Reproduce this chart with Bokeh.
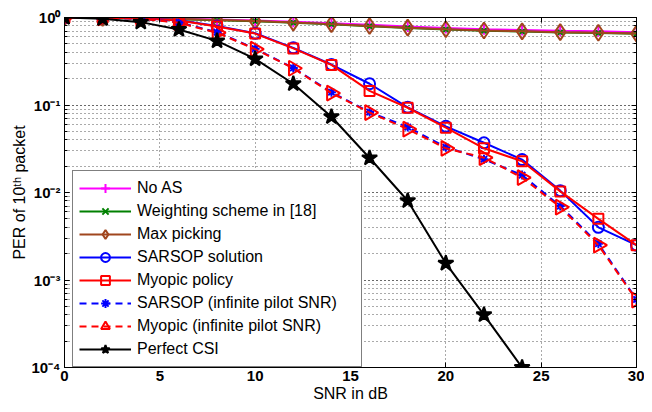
import math
from bokeh.plotting import figure
from bokeh.models import (Range1d, FixedTicker, LogTicker, CustomJSTickFormatter,
                          LinearAxis, LogAxis, Legend)
from bokeh.embed import file_html
from bokeh.resources import INLINE

snr = [0, 2, 4, 6, 8, 10, 12, 14, 16, 18, 20, 22, 24, 26, 28, 30]
no_as = [1.0, 0.995, 0.985, 0.97, 0.95, 0.925, 0.895, 0.86, 0.825, 0.79, 0.76, 0.735, 0.72, 0.705, 0.695, 0.68]
weighting = [1.0, 0.99, 0.98, 0.955, 0.93, 0.905, 0.87, 0.835, 0.795, 0.76, 0.73, 0.705, 0.69, 0.675, 0.665, 0.65]
max_pick = [1.0, 0.99, 0.98, 0.96, 0.935, 0.91, 0.875, 0.84, 0.80, 0.765, 0.735, 0.71, 0.695, 0.68, 0.67, 0.655]
sarsop = [1.0, 0.995, 0.98, 0.93, 0.80, 0.66, 0.45, 0.29, 0.175, 0.094, 0.057, 0.037, 0.0238, 0.0105, 0.004, 0.0025]
myopic = [1.0, 0.995, 0.98, 0.925, 0.79, 0.655, 0.443, 0.287, 0.145, 0.093, 0.055, 0.032, 0.0228, 0.0103, 0.005, 0.0025]
sarsop_inf = [1.0, 0.99, 0.97, 0.88, 0.68, 0.44, 0.265, 0.14, 0.083, 0.056, 0.033, 0.024, 0.0158, 0.007, 0.0026, 0.0006]
myopic_inf = [1.0, 0.99, 0.97, 0.87, 0.67, 0.435, 0.263, 0.137, 0.082, 0.053, 0.032, 0.025, 0.0148, 0.0068, 0.0025, 0.00059]
snr_csi = [0, 2, 4, 6, 8, 10, 12, 14, 16, 18, 20, 22, 24]
perfect_csi = [1.0, 0.97, 0.885, 0.73, 0.54, 0.336, 0.175, 0.0735, 0.0248, 0.00805, 0.00155, 0.0004, 0.0001]

x_ticks = [0, 5, 10, 15, 20, 25, 30]

FONT = "Liberation Sans"

p = figure(width=644, height=404, y_axis_type="log",
           x_range=Range1d(0, 30), y_range=Range1d(1e-4, 1),
           output_backend="svg", toolbar_location=None,
           min_border_left=64, min_border_right=8, min_border_top=17, min_border_bottom=36)
p.background_fill_color = "white"
p.border_fill_color = "white"
p.outline_line_color = "black"
p.outline_line_width = 1

sup_js = """
const sup = {"-":"\u207b","0":"\u2070","1":"\u00b9","2":"\u00b2","3":"\u00b3","4":"\u2074","5":"\u2075","6":"\u2076","7":"\u2077","8":"\u2078","9":"\u2079"};
const e = Math.round(Math.log10(tick));
return "10" + String(e).split("").map(c => sup[c]).join("");
"""

xa = p.xaxis[0]
xa.ticker = FixedTicker(ticks=x_ticks, minor_ticks=[])
ya = p.yaxis[0]
ya.ticker = LogTicker(num_minor_ticks=10)
ya.formatter = CustomJSTickFormatter(code=sup_js)

for ax in (xa, ya):
    ax.major_tick_in = 5
    ax.major_tick_out = 0
    ax.minor_tick_in = 3
    ax.minor_tick_out = 0
    ax.axis_line_color = "black"
    ax.major_tick_line_color = "black"
    ax.minor_tick_line_color = "black"
    ax.major_label_text_font = FONT
    ax.major_label_text_font_style = "bold"
    ax.major_label_text_font_size = "15px"
    ax.major_label_text_color = "black"
    ax.axis_label_text_font = FONT
    ax.axis_label_text_font_style = "normal"
    ax.axis_label_text_font_size = "16px"
    ax.axis_label_text_color = "black"

xa.axis_label = "SNR in dB"
xa.major_label_standoff = 3
xa.axis_label_standoff = 1
ya.axis_label = "PER of 10\u1d57\u02b0 packet"
ya.major_label_standoff = 4
ya.axis_label_standoff = 0

# mirrored ticks on top and right (Matlab box style)
empty = CustomJSTickFormatter(code="return '';")
top = LinearAxis(ticker=FixedTicker(ticks=x_ticks, minor_ticks=[]), formatter=empty,
                 major_tick_in=5, major_tick_out=0, minor_tick_in=0, minor_tick_out=0,
                 major_label_text_font_size="1px", major_label_standoff=0,
                 axis_line_color="black")
right = LogAxis(ticker=LogTicker(num_minor_ticks=10), formatter=empty,
                major_tick_in=5, major_tick_out=0, minor_tick_in=3, minor_tick_out=0,
                major_label_text_font_size="1px", major_label_standoff=0,
                axis_line_color="black")
p.add_layout(top, "above")
p.add_layout(right, "right")

p.xgrid.ticker = FixedTicker(ticks=x_ticks, minor_ticks=[])
for g in (p.xgrid[0], p.ygrid[0]):
    g.grid_line_color = "#555555"
    g.grid_line_dash = "1 3"
    g.grid_line_width = 1
p.ygrid.minor_grid_line_color = "#555555"
p.ygrid.minor_grid_line_dash = "1 3"
p.ygrid.minor_grid_line_width = 1

LW = 2
MAG = "#FF00FF"
GRN = "#008000"
BRN = "#A0461E"
BLU = "#0000FF"
RED = "#FF0000"

items = []

def series(xs, ys, color, marker, size, dash="solid", fill=None, angle=0.0):
    r1 = p.line(xs, ys, line_color=color, line_width=LW, line_dash=dash)
    r2 = p.scatter(xs, ys, marker=marker, size=size, line_color=color, line_width=LW,
                   fill_color=fill if fill else "white", fill_alpha=1.0 if fill else 0.0,
                   angle=angle, angle_units="rad")
    return [r1, r2]

items.append(("No AS", series(snr, no_as, MAG, "cross", 11)))
items.append(("Weighting scheme in [18]", series(snr, weighting, GRN, "x", 7)))
items.append(("Max picking", series(snr, max_pick, BRN, "diamond", 16)))
items.append(("SARSOP solution", series(snr, sarsop, BLU, "circle", 11)))
items.append(("Myopic policy", series(snr, myopic, RED, "square", 10)))
items.append(("SARSOP (infinite pilot SNR)", series(snr, sarsop_inf, BLU, "asterisk", 9, dash="7 5")))
items.append(("Myopic (infinite pilot SNR)", series(snr, myopic_inf, RED, "triangle", 15, dash="7 5",
                                                    angle=-math.pi / 2)))
items.append(("Perfect CSI", series(snr_csi, perfect_csi, "black", "star", 16, fill="black")))

legend = Legend(items=items, location=(8, 0))
legend.label_text_font = FONT
legend.label_text_font_size = "16px"
legend.label_text_color = "black"
legend.glyph_width = 52
legend.glyph_height = 22
legend.label_height = 22
legend.label_width = 218
legend.label_standoff = 6
legend.spacing = 1
legend.padding = 6
legend.margin = 0
legend.border_line_color = "black"
legend.border_line_width = 1
legend.background_fill_color = "white"
legend.background_fill_alpha = 1.0
p.add_layout(legend, "center")

open("out.html", "w").write(file_html(p, INLINE))
